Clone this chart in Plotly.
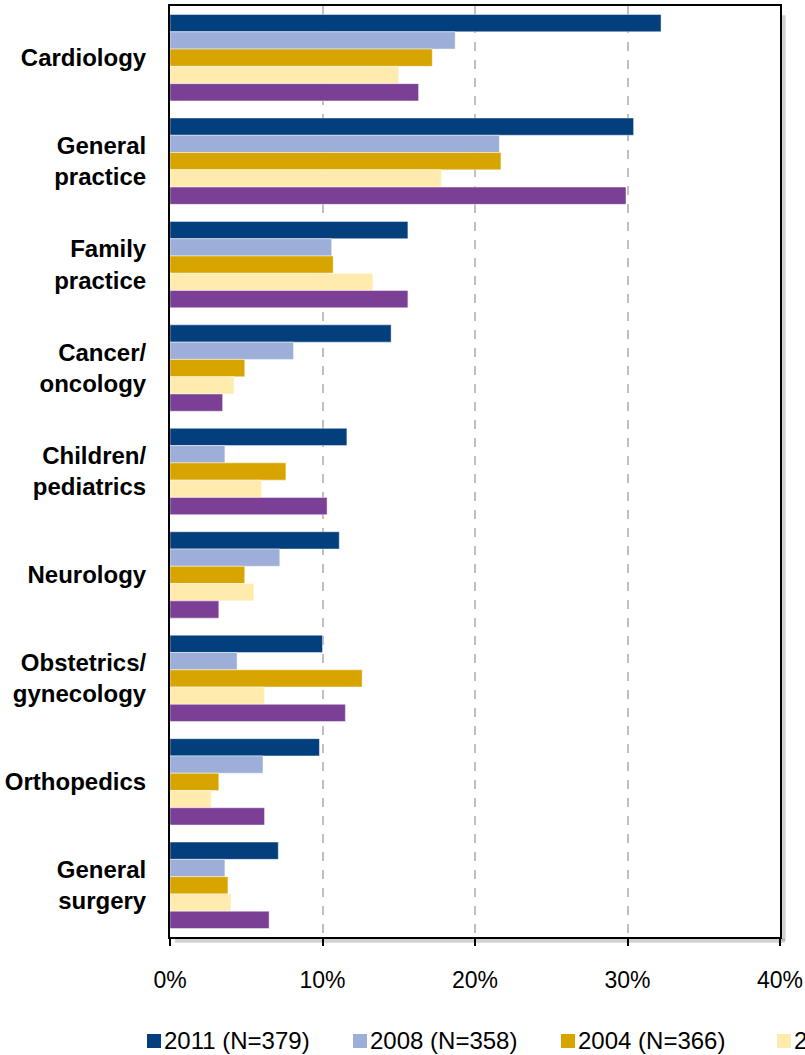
import plotly.graph_objects as go

# categories, top to bottom
specialties = [
    "Cardiology",
    "General<br>practice",
    "Family<br>practice",
    "Cancer/<br>oncology",
    "Children/<br>pediatrics",
    "Neurology",
    "Obstetrics/<br>gynecology",
    "Orthopedics",
    "General<br>surgery",
]

series_names = ["2011 (N=379)", "2008 (N=358)", "2004 (N=366)", "2002", "2000"]
series_colors = ["#033F7C", "#9DAFD9", "#D8A500", "#FFEBAD", "#7B4096"]

values_2011 = [32.2, 30.4, 15.6, 14.5, 11.6, 11.1, 10.0, 9.8, 7.1]
values_2008 = [18.7, 21.6, 10.6, 8.1, 3.6, 7.2, 4.4, 6.1, 3.6]
values_2004 = [17.2, 21.7, 10.7, 4.9, 7.6, 4.9, 12.6, 3.2, 3.8]
values_2002 = [15.0, 17.8, 13.3, 4.2, 6.0, 5.5, 6.2, 2.7, 4.0]
values_2000 = [16.3, 29.9, 15.6, 3.45, 10.3, 3.2, 11.5, 6.2, 6.5]

x_ticks = [0, 10, 20, 30, 40]
x_tick_labels = ["0%", "10%", "20%", "30%", "40%"]

all_values = [values_2011, values_2008, values_2004, values_2002, values_2000]

FONT = "Arial, Liberation Sans, sans-serif"

fig = go.Figure()
for name, color, values in zip(series_names, series_colors, all_values):
    fig.add_trace(
        go.Bar(
            x=values,
            y=specialties,
            orientation="h",
            name=name,
            marker=dict(color=color, line=dict(color="rgba(255,255,255,0.45)", width=1)),
            showlegend=False,
        )
    )

# drop shadow of the plot frame (right and bottom)
shadow = "rgba(0,0,0,0.18)"
fig.add_shape(type="line", xref="paper", yref="paper", x0=1.006, x1=1.006, y0=-0.004, y1=0.99,
              line=dict(color=shadow, width=4), layer="below")
fig.add_shape(type="line", xref="paper", yref="paper", x0=0.008, x1=1.008, y0=-0.004, y1=-0.004,
              line=dict(color=shadow, width=4), layer="below")

# legend drawn by hand so it can run off the right edge like the original
legend_centers = [154, 360, 568, 784, 994]
legend_y = -0.1117
for name, color, cx in zip(series_names, series_colors, legend_centers):
    xp = (cx - 170) / 610
    fig.add_shape(
        type="rect", xref="paper", yref="paper", xsizemode="pixel", ysizemode="pixel",
        xanchor=xp, yanchor=legend_y, x0=-7, x1=7, y0=-7, y1=7,
        fillcolor=color, line=dict(width=0),
    )
    fig.add_annotation(
        xref="paper", yref="paper", x=(cx + 8 - 170) / 610, y=legend_y,
        text=name, showarrow=False, xanchor="left", yanchor="middle",
        font=dict(family=FONT, size=24, color="#000000"),
    )

fig.update_layout(
    width=805,
    height=1055,
    margin=dict(l=170, r=25, t=6, b=118),
    paper_bgcolor="white",
    plot_bgcolor="white",
    barmode="group",
    bargap=0.165,
    bargroupgap=0,
    font=dict(family=FONT, color="#000000"),
    xaxis=dict(
        range=[0, 40],
        tickvals=x_ticks,
        ticktext=x_tick_labels,
        ticks="outside",
        ticklen=7,
        tickwidth=2,
        tickcolor="#000000",
        showline=True,
        linecolor="#000000",
        linewidth=2,
        mirror=True,
        showgrid=True,
        gridcolor="#C0C0C0",
        griddash="dash",
        gridwidth=1.5,
        zeroline=False,
        automargin=False,
        tickfont=dict(size=23, family=FONT),
        ticklabelstandoff=14,
    ),
    yaxis=dict(
        autorange="reversed",
        showline=True,
        linecolor="#000000",
        linewidth=2,
        mirror=True,
        ticks="",
        showgrid=False,
        automargin=False,
        tickfont=dict(size=24, family=FONT, weight="bold"),
        ticklabelstandoff=17,
    ),
)

fig.write_html(
    "out.html",
    config={"displayModeBar": False},
    post_script="document.body.style.margin = '0';",
)
